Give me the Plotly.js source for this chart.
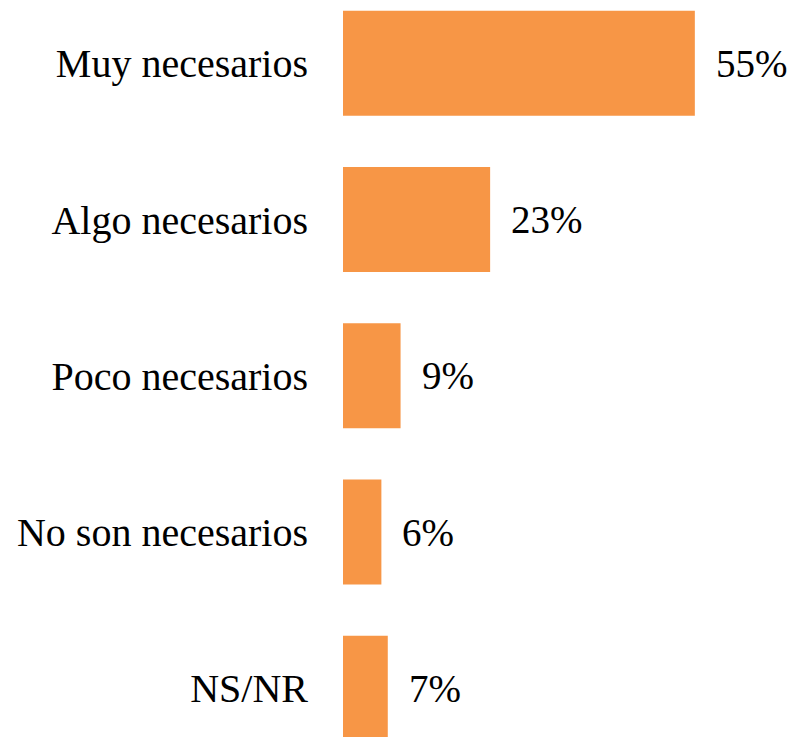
<!DOCTYPE html>
<html>
<head>
<meta charset="utf-8">
<script src="https://cdn.plot.ly/plotly-3.0.1.min.js"></script>
<style>html,body{margin:0;padding:0;background:#fff;}</style>
</head>
<body>
<div id="chart"></div>
<script>
const categories = ["Muy necesarios", "Algo necesarios", "Poco necesarios", "No son necesarios", "NS/NR"];
const values = [55, 23, 9, 6, 7];
const labels = ["55%", "23%", "9%", "6%", "7%"];

const SERIF = "Liberation Serif";

const trace = {
  type: "bar",
  orientation: "h",
  x: values,
  y: categories,
  width: 0.672,
  marker: {color: "#F79646", line: {width: 0}},
  hoverinfo: "none"
};

const annotations = categories.map((c, i) => ({
  x: values[i], y: c, xref: "x", yref: "y",
  text: labels[i], showarrow: false,
  xanchor: "left", yanchor: "middle", xshift: 19,
  font: {family: SERIF, size: 39, color: "#000"}
}));

const layout = {
  width: 794, height: 737,
  margin: {l: 343, r: 0, t: 0, b: 0, pad: 0},
  paper_bgcolor: "#fff", plot_bgcolor: "#fff",
  showlegend: false,
  font: {family: SERIF, color: "#000"},
  xaxis: {range: [0, 70.5], showgrid: false, zeroline: false, showline: false, showticklabels: false, ticks: ""},
  yaxis: {
    type: "category",
    categoryorder: "array", categoryarray: categories,
    range: [4.312, -0.405],
    showgrid: false, zeroline: false, showline: false,
    ticks: "", ticklabelstandoff: 34,
    tickfont: {family: SERIF, size: 40, color: "#000"}
  },
  annotations: annotations
};

Plotly.newPlot("chart", [trace], layout, {displayModeBar: false});
</script>
</body>
</html>
